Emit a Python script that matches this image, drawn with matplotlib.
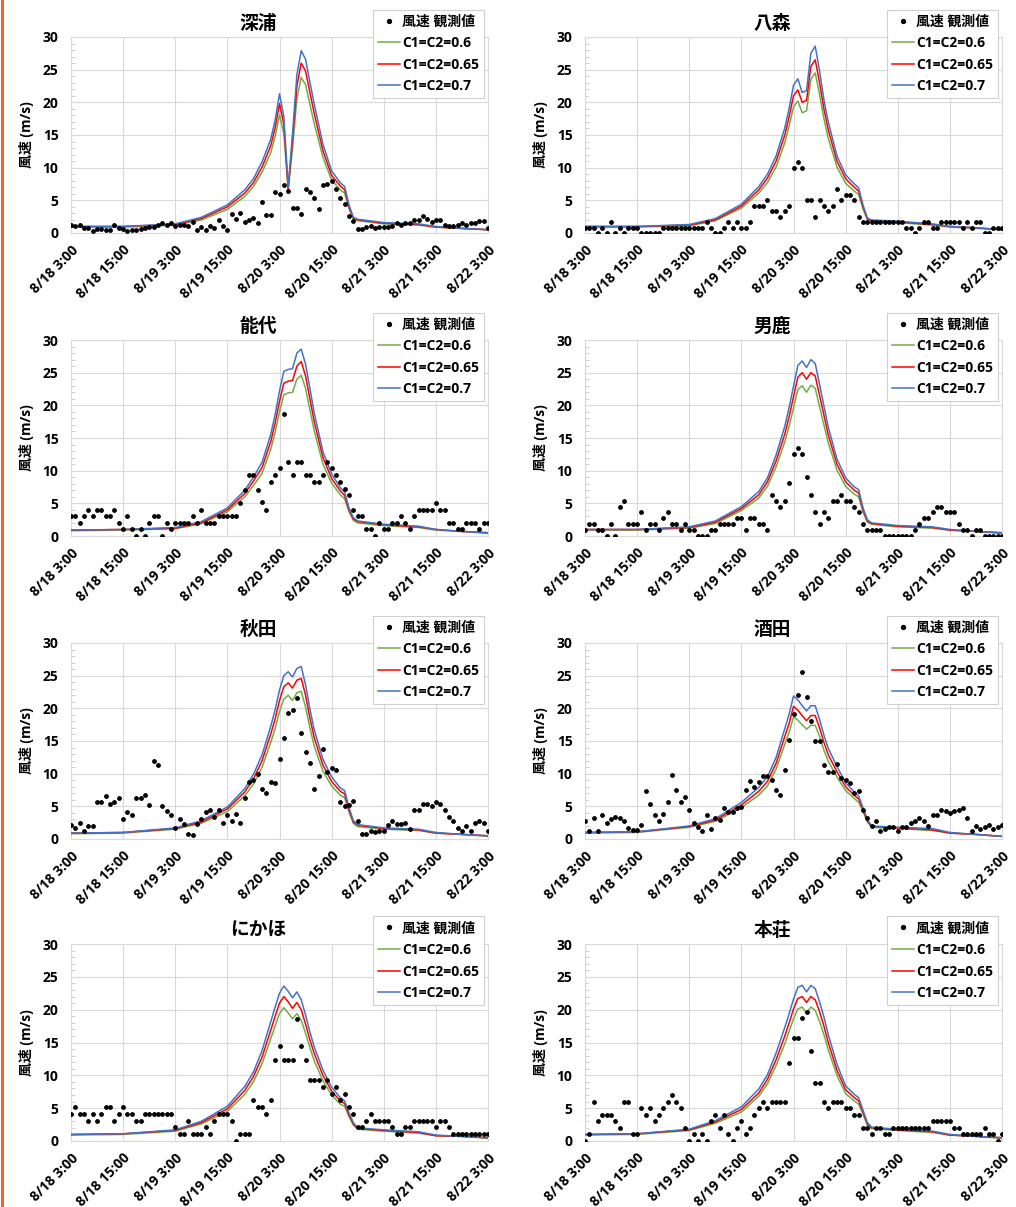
import matplotlib
matplotlib.use("Agg")
import matplotlib.pyplot as plt
from matplotlib.lines import Line2D
import numpy as np

plt.rcParams['font.family'] = ['Open Sans', 'Noto Sans CJK JP', 'DejaVu Sans']
plt.rcParams['font.weight'] = 'bold'

# ---- data ---- #
# hours after 8/18 3:00 (hourly observations, 97 values per station)
obs_hours = list(range(97))
tick_hours = [0, 12, 24, 36, 48, 60, 72, 84, 96]
tick_labels = ['8/18 3:00', '8/18 15:00', '8/19 3:00', '8/19 15:00', '8/20 3:00',
               '8/20 15:00', '8/21 3:00', '8/21 15:00', '8/22 3:00']

# hours where the model curves were read
model_hours = [0, 12, 24, 30, 36, 40, 42, 44, 46, 47, 48, 49, 50, 51, 52, 53,
               54, 55, 56, 58, 60, 62, 63, 64, 65, 66, 72, 80, 84, 90, 96]

stations = ['深浦', '八森', '能代', '男鹿', '秋田', '酒田', 'にかほ', '本荘']
series_labels = ['C1=C2=0.6', 'C1=C2=0.65', 'C1=C2=0.7']
obs_label = '風速 観測値'

# 深浦
obs_fukaura = [1.2, 1.0, 1.2, 0.7, 0.7, 0.3, 0.6, 0.6, 0.5, 0.4, 1.3, 0.7, 0.6, 0.3, 0.4, 0.5,
               0.6, 0.7, 0.9, 0.9, 1.3, 1.5, 1.3, 1.5, 1.1, 1.3, 1.3, 1.0, 1.7, 0.5, 0.9, 0.4,
               1.0, 0.7, 2.0, 1.1, 0.5, 2.9, 2.1, 3.1, 1.7, 2.0, 2.3, 1.5, 4.7, 2.8, 2.8, 6.3,
               5.9, 7.4, 6.5, 3.8, 3.8, 2.9, 6.7, 6.3, 5.3, 3.6, 7.4, 7.5, 7.9, 6.8, 5.3, 4.5,
               2.6, 1.8, 0.6, 0.6, 0.9, 1.0, 0.7, 0.9, 0.9, 0.9, 1.0, 1.6, 1.2, 1.5, 1.5, 2.0,
               2.0, 2.6, 2.2, 1.7, 2.0, 2.0, 1.3, 1.0, 1.0, 1.2, 1.6, 1.3, 1.6, 1.5, 1.9, 1.9, 0.8]
g_fukaura = [0.9, 0.9, 1.2, 2.0, 3.6, 5.6, 7.1, 9.3, 12.3, 14.8, 18.1, 15.2, 6.5, 13.0, 20.6, 23.8,
             22.7, 19.7, 16.7, 11.6, 8.1, 6.6, 6.1, 3.7, 2.1, 1.9, 1.4, 1.2, 0.9, 0.7, 0.5]
r_fukaura = [1.0, 1.0, 1.3, 2.2, 4.0, 6.1, 7.7, 10.1, 13.4, 16.1, 19.8, 16.6, 6.8, 14.2, 22.5, 26.0,
             24.8, 21.5, 18.3, 12.6, 8.8, 7.2, 6.6, 4.0, 2.3, 2.0, 1.5, 1.3, 0.9, 0.7, 0.5]
b_fukaura = [1.0, 1.0, 1.4, 2.4, 4.3, 6.6, 8.3, 10.9, 14.4, 17.3, 21.3, 17.8, 7.0, 15.2, 24.2, 27.9,
             26.6, 23.1, 19.7, 13.6, 9.5, 7.7, 7.1, 4.3, 2.4, 2.1, 1.6, 1.4, 1.0, 0.7, 0.5]

# 八森
obs_hachimori = [0.8, 0.8, 0.8, 0, 0.8, 0, 1.7, 0, 0.8, 0, 0.8, 0.8, 0.8, 0, 0, 0,
                 0, 0, 0.8, 0.8, 0.8, 0.8, 0.8, 0.8, 0.8, 0.8, 0.8, 0.8, 1.7, 0.8, 0, 0,
                 0.8, 1.7, 0.8, 1.7, 0.8, 0.8, 1.7, 4.2, 4.2, 4.2, 5.0, 3.3, 3.3, 2.5, 3.3, 4.2,
                 10.0, 10.8, 10.0, 5.0, 5.0, 2.5, 5.0, 4.2, 3.3, 4.2, 6.7, 5.0, 5.8, 5.8, 5.0, 2.5,
                 1.7, 1.7, 1.7, 1.7, 1.7, 1.7, 1.7, 1.7, 1.7, 1.7, 0.8, 0.8, 0, 0.8, 1.7, 1.7,
                 0.8, 0.8, 1.7, 1.7, 1.7, 1.7, 1.7, 0.8, 1.7, 0.8, 1.7, 1.7, 0, 0, 0.8, 0.8, 0.8]
g_hachimori = [0.9, 0.9, 1.1, 1.9, 3.8, 6.1, 7.7, 10.1, 13.8, 16.4, 19.3, 20.2, 18.4, 18.7, 23.5, 24.5,
               21.2, 17.5, 14.5, 10.1, 7.6, 6.4, 5.9, 3.7, 2.0, 1.8, 1.6, 1.2, 0.9, 0.7, 0.5]
r_hachimori = [1.0, 1.0, 1.2, 2.0, 4.1, 6.6, 8.4, 11.0, 15.0, 17.8, 21.0, 21.9, 20.0, 20.3, 25.5, 26.5,
               23.0, 19.0, 15.8, 11.0, 8.3, 7.0, 6.4, 4.0, 2.2, 1.9, 1.7, 1.3, 1.0, 0.8, 0.5]
b_hachimori = [1.0, 1.0, 1.3, 2.2, 4.4, 7.1, 9.0, 11.8, 16.1, 19.1, 22.6, 23.6, 21.5, 21.8, 27.5, 28.6,
               24.8, 20.4, 17.0, 11.8, 8.9, 7.5, 6.9, 4.3, 2.3, 2.0, 1.8, 1.4, 1.0, 0.8, 0.5]

# 能代
obs_noshiro = [3, 3, 2, 3, 4, 3, 4, 4, 3, 3, 4, 2, 1, 3, 1, 0,
               1, 0, 2, 3, 3, 0, 2, 1, 2, 2, 2, 2, 3, 2, 4, 2,
               2, 2, 3, 3, 3, 3, 3, 5, 7, 9.3, 9.3, 7, 5.2, 4, 8.3, 9.3,
               10.4, 18.6, 11.3, 9.3, 11.3, 11.3, 9.3, 9.3, 8.3, 8.3, 9.3, 11.3, 10.4, 9.3, 8.3, 7.2,
               6.2, 4, 3, 3, 1, 1, 0, 2, 1, 1, 2, 2, 3, 2, 1, 3,
               4, 4, 4, 4, 5, 4, 4, 2, 2, 1, 1, 2, 2, 2, 1, 2, 2]
g_noshiro = [0.8, 0.9, 1.1, 1.9, 3.7, 6.0, 7.7, 9.6, 13.3, 15.9, 19.0, 21.6, 21.9, 22.0, 24.0, 24.6,
             22.6, 19.3, 16.1, 11.0, 8.1, 6.3, 5.7, 3.7, 2.4, 2.0, 1.6, 1.3, 0.9, 0.7, 0.4]
r_noshiro = [0.9, 1.0, 1.2, 2.0, 4.0, 6.5, 8.4, 10.5, 14.5, 17.3, 20.6, 23.4, 23.7, 23.8, 26.0, 26.7,
             24.5, 21.0, 17.5, 12.0, 8.8, 6.9, 6.2, 4.0, 2.6, 2.2, 1.7, 1.4, 1.0, 0.7, 0.5]
b_noshiro = [0.9, 1.0, 1.3, 2.2, 4.3, 7.0, 9.0, 11.3, 15.6, 18.6, 22.2, 25.2, 25.5, 25.6, 28.0, 28.6,
             26.3, 22.6, 18.8, 12.9, 9.5, 7.4, 6.7, 4.3, 2.8, 2.3, 1.8, 1.5, 1.0, 0.7, 0.5]

# 男鹿
obs_oga = [0.9, 1.8, 1.8, 0.9, 0.9, 0, 1.8, 0, 4.5, 5.4, 1.8, 1.8, 1.8, 3.6, 0.9, 1.8,
           1.8, 0.9, 2.7, 3.6, 1.8, 1.8, 0.9, 1.8, 0.9, 0.9, 0, 0, 0, 0.9, 0.9, 1.8,
           1.8, 1.8, 1.8, 2.7, 2.7, 0.9, 2.7, 2.7, 1.8, 1.8, 0.9, 6.3, 5.4, 4.5, 5.4, 8.1,
           12.6, 13.5, 12.6, 9.0, 6.3, 3.6, 1.8, 3.6, 2.7, 5.4, 5.4, 6.3, 5.4, 5.4, 4.5, 3.6,
           1.8, 0.9, 0.9, 0.9, 0.9, 0, 0, 0, 0, 0, 0, 0, 0.9, 1.8, 2.7, 2.7,
           3.6, 4.5, 4.5, 3.6, 3.6, 3.6, 1.8, 0.9, 0.9, 0, 0.9, 0.9, 0, 0, 0, 0, 0]
g_oga = [0.9, 0.9, 1.2, 1.9, 3.9, 5.8, 7.6, 10.6, 14.4, 16.8, 19.6, 22.4, 23.0, 22.0, 23.1, 22.6,
         19.8, 17.0, 14.3, 10.1, 7.6, 6.4, 6.0, 3.7, 2.1, 1.8, 1.4, 1.2, 0.9, 0.7, 0.4]
r_oga = [1.0, 1.0, 1.3, 2.1, 4.2, 6.3, 8.3, 11.5, 15.6, 18.3, 21.3, 24.3, 25.0, 24.0, 25.0, 24.5,
         21.5, 18.5, 15.5, 11.0, 8.3, 7.0, 6.6, 4.0, 2.3, 1.9, 1.5, 1.3, 0.9, 0.7, 0.5]
b_oga = [1.0, 1.0, 1.4, 2.3, 4.5, 6.8, 8.9, 12.4, 16.8, 19.7, 22.9, 26.1, 26.8, 25.8, 27.0, 26.4,
         23.2, 19.9, 16.7, 11.8, 8.9, 7.5, 7.1, 4.3, 2.5, 2.0, 1.6, 1.4, 1.0, 0.7, 0.5]

# 秋田
obs_akita = [2.1, 1.7, 2.5, 1.3, 2.0, 2.0, 5.6, 5.6, 6.6, 5.4, 5.7, 6.3, 3.1, 4.2, 3.6, 6.3,
             6.3, 6.7, 5.2, 11.9, 11.4, 5.0, 4.3, 3.6, 1.7, 3.0, 2.3, 0.7, 0.6, 2.3, 3.0, 4.1,
             4.5, 3.3, 4.5, 2.4, 3.6, 2.7, 3.9, 2.5, 6.3, 8.7, 9.0, 9.9, 7.6, 7.0, 8.7, 8.6,
             12.2, 15.5, 19.3, 19.7, 21.6, 16.3, 13.3, 11.6, 7.7, 9.6, 13.7, 10.2, 10.8, 10.6, 5.7, 5.0,
             5.2, 5.8, 2.7, 0.8, 0.7, 1.3, 1.1, 1.3, 1.3, 2.1, 2.7, 2.3, 2.3, 2.5, 1.5, 4.4,
             4.5, 5.3, 5.3, 5.0, 5.6, 5.3, 4.5, 3.4, 2.8, 1.7, 1.3, 2.0, 1.3, 2.5, 2.7, 2.5, 1.3]
g_akita = [0.8, 0.9, 1.5, 2.4, 4.2, 6.6, 8.4, 11.0, 14.8, 16.9, 19.5, 21.4, 22.0, 21.2, 22.4, 22.6,
           20.2, 17.0, 14.2, 10.4, 8.1, 6.7, 6.3, 4.1, 2.4, 1.9, 1.5, 1.3, 0.9, 0.7, 0.4]
r_akita = [0.9, 1.0, 1.6, 2.6, 4.6, 7.2, 9.2, 12.0, 16.1, 18.4, 21.2, 23.3, 23.9, 23.1, 24.3, 24.6,
           22.0, 18.5, 15.5, 11.3, 8.8, 7.3, 6.9, 4.5, 2.6, 2.1, 1.6, 1.4, 0.9, 0.7, 0.5]
b_akita = [0.9, 1.0, 1.7, 2.8, 4.9, 7.7, 9.9, 12.9, 17.3, 19.8, 22.8, 25.0, 25.6, 24.8, 26.1, 26.4,
           23.6, 19.9, 16.7, 12.2, 9.5, 7.8, 7.4, 4.8, 2.8, 2.2, 1.7, 1.5, 1.0, 0.7, 0.5]

# 酒田
obs_sakata = [2.8, 1.3, 3.2, 1.3, 3.7, 2.5, 3.0, 3.4, 3.2, 2.7, 1.7, 1.4, 1.4, 2.2, 7.4, 5.3,
              3.6, 2.8, 3.9, 5.7, 9.8, 7.5, 5.7, 6.5, 4.4, 2.5, 1.9, 1.2, 3.7, 1.5, 3.2, 2.9,
              4.7, 4.2, 4.2, 4.7, 4.9, 7.5, 8.9, 8.0, 8.8, 9.7, 9.6, 9.1, 7.5, 6.7, 10.5, 15.1,
              19.2, 22.1, 25.5, 21.7, 18.1, 15.0, 15.0, 11.3, 10.3, 10.3, 11.5, 9.3, 9.0, 8.6, 7.0, 7.4,
              4.5, 3.2, 2.0, 2.7, 1.2, 1.5, 1.8, 1.9, 1.2, 1.8, 1.9, 2.5, 2.7, 3.2, 2.7, 2.0,
              3.7, 3.7, 4.4, 4.3, 4.0, 4.3, 4.5, 4.8, 3.2, 1.2, 2.0, 1.5, 1.8, 2.1, 1.6, 1.9, 2.2]
g_sakata = [0.9, 1.0, 1.8, 2.7, 4.8, 6.7, 8.1, 10.7, 14.5, 16.3, 18.7, 18.2, 17.5, 16.8, 17.4, 17.4,
            15.7, 13.6, 11.9, 9.5, 7.4, 6.2, 5.6, 4.2, 2.6, 1.8, 1.6, 1.3, 0.9, 0.7, 0.4]
r_sakata = [1.0, 1.1, 1.9, 2.9, 5.2, 7.3, 8.8, 11.6, 15.7, 17.7, 20.3, 19.7, 18.9, 18.1, 18.9, 18.9,
            17.0, 14.8, 12.9, 10.3, 8.0, 6.7, 6.1, 4.5, 2.8, 1.9, 1.7, 1.4, 0.9, 0.7, 0.4]
b_sakata = [1.0, 1.1, 2.0, 3.1, 5.6, 7.9, 9.5, 12.5, 16.9, 19.1, 21.9, 21.3, 20.4, 19.6, 20.4, 20.4,
            18.3, 15.9, 13.9, 11.1, 8.6, 7.2, 6.6, 4.8, 3.0, 2.0, 1.8, 1.6, 1.0, 0.7, 0.4]

# にかほ
obs_nikaho = [4.1, 5.2, 4.1, 4.1, 3.1, 4.1, 3.1, 4.1, 5.2, 5.2, 3.1, 4.1, 5.2, 4.1, 4.1, 3.1,
              3.1, 4.1, 4.1, 4.1, 4.1, 4.1, 4.1, 4.1, 2.1, 1.0, 1.0, 3.1, 1.0, 1.0, 1.0, 2.1,
              1.0, 3.1, 4.1, 4.1, 4.1, 3.1, 0, 1.0, 1.0, 1.0, 6.2, 5.2, 5.2, 4.1, 6.2, 12.4,
              14.4, 12.4, 12.4, 12.4, 18.6, 14.4, 12.4, 9.3, 9.3, 9.3, 8.2, 9.3, 7.2, 8.2, 6.2, 7.2,
              5.2, 4.1, 2.1, 2.1, 3.1, 4.1, 3.1, 3.1, 3.1, 3.1, 2.1, 1.0, 1.0, 2.1, 2.1, 3.1,
              3.1, 3.1, 3.1, 3.1, 2.1, 3.1, 3.1, 2.1, 1.0, 1.0, 1.0, 1.0, 1.0, 1.0, 1.0, 1.0, 1.0]
g_nikaho = [0.9, 1.0, 1.5, 2.6, 4.5, 7.1, 9.0, 11.8, 15.6, 17.5, 19.4, 20.3, 19.5, 18.6, 19.4, 18.4,
            16.4, 14.2, 12.2, 9.2, 7.0, 5.6, 5.3, 3.7, 2.4, 1.8, 1.5, 1.2, 0.8, 0.7, 0.4]
r_nikaho = [1.0, 1.1, 1.6, 2.8, 4.9, 7.7, 9.8, 12.8, 16.9, 19.0, 21.0, 22.0, 21.2, 20.2, 21.1, 20.0,
            17.8, 15.4, 13.3, 10.0, 7.6, 6.1, 5.7, 4.0, 2.6, 1.9, 1.6, 1.3, 0.8, 0.7, 0.5]
b_nikaho = [1.0, 1.1, 1.7, 3.0, 5.3, 8.3, 10.5, 13.8, 18.2, 20.4, 22.5, 23.6, 22.8, 21.8, 22.7, 21.5,
            19.2, 16.6, 14.3, 10.8, 8.2, 6.6, 6.1, 4.3, 2.8, 2.0, 1.7, 1.4, 0.9, 0.7, 0.5]

# 本荘
obs_honjo = [0, 1, 6, 3, 4, 4, 4, 3, 2, 6, 6, 1, 1, 5, 4, 5,
             3, 4, 5, 6, 7, 6, 5, 2, 0, 1, 0, 1, 0, 3, 4, 2,
             4, 1, 0, 2, 3, 1, 2, 4, 5, 6, 5, 6, 6, 6, 6, 11.9,
             15.7, 15.7, 18.7, 19.7, 13.7, 8.8, 8.8, 6, 5, 6, 6, 6, 5, 5, 4, 4,
             2, 2, 1, 2, 2, 1, 1, 2, 2, 2, 2, 2, 2, 2, 2, 2,
             3, 3, 3, 3, 3, 2, 2, 1, 1, 1, 1, 1, 2, 1, 1, 0, 1]
g_honjo = [0.9, 1.0, 1.6, 2.7, 4.4, 6.8, 8.7, 11.5, 14.8, 16.7, 18.6, 20.1, 20.4, 19.5, 20.4, 19.9,
           18.2, 16.2, 13.9, 10.0, 7.2, 6.1, 5.6, 4.1, 2.4, 1.9, 1.6, 1.3, 0.9, 0.7, 0.4]
r_honjo = [1.0, 1.1, 1.7, 2.9, 4.8, 7.3, 9.4, 12.4, 16.0, 18.0, 20.1, 21.7, 22.0, 21.1, 22.0, 21.5,
           19.7, 17.5, 15.0, 10.8, 7.8, 6.6, 6.1, 4.4, 2.6, 2.0, 1.7, 1.4, 0.9, 0.7, 0.5]
b_honjo = [1.0, 1.1, 1.8, 3.1, 5.2, 7.9, 10.1, 13.4, 17.3, 19.4, 21.6, 23.4, 23.7, 22.7, 23.7, 23.2,
           21.2, 18.9, 16.2, 11.7, 8.4, 7.1, 6.6, 4.7, 2.8, 2.1, 1.8, 1.5, 1.0, 0.7, 0.5]

panel_data = {
    '深浦': (obs_fukaura, g_fukaura, r_fukaura, b_fukaura),
    '八森': (obs_hachimori, g_hachimori, r_hachimori, b_hachimori),
    '能代': (obs_noshiro, g_noshiro, r_noshiro, b_noshiro),
    '男鹿': (obs_oga, g_oga, r_oga, b_oga),
    '秋田': (obs_akita, g_akita, r_akita, b_akita),
    '酒田': (obs_sakata, g_sakata, r_sakata, b_sakata),
    'にかほ': (obs_nikaho, g_nikaho, r_nikaho, b_nikaho),
    '本荘': (obs_honjo, g_honjo, r_honjo, b_honjo),
}

line_colors = ['#70AD47', '#FF0000', '#4472C4']
grid_col = '#D9D9D9'

# ---- layout (pixel boxes: left, top, right, bottom) ---- #
W, H = 1016, 1207
col_lr = [(71, 488), (585, 1002)]
row_tb = [(37, 233), (340, 536), (643, 839), (944, 1141)]

fig = plt.figure(figsize=(W / 100, H / 100), dpi=100)

for i, name in enumerate(stations):
    l, r = col_lr[i % 2]
    t, b = row_tb[i // 2]
    ax = fig.add_axes([l / W, 1 - b / H, (r - l) / W, (b - t) / H])
    obs, g, rd, bl = panel_data[name]

    for vals, col, lab in zip([g, rd, bl], line_colors, series_labels):
        ax.plot(model_hours, vals, color=col, lw=1.1, label=lab, zorder=3)
    ax.scatter(obs_hours, obs, s=6, color='black', zorder=4, label=obs_label)

    ax.set_xlim(0, 96)
    ax.set_ylim(0, 30)
    ax.set_yticks(range(0, 31, 5))
    ax.set_yticks(range(0, 31, 1), minor=True)
    ax.set_xticks(tick_hours)
    ax.set_xticklabels(tick_labels, rotation=45, ha='right', rotation_mode='anchor')
    ax.grid(True, which='major', color=grid_col, lw=0.8)
    for sp in ax.spines.values():
        sp.set_color(grid_col)
        sp.set_linewidth(0.8)
    ax.tick_params(axis='both', which='major', labelsize=10, length=0)
    ax.tick_params(axis='y', which='major', pad=9)
    ax.tick_params(axis='x', which='major', pad=7)
    ax.tick_params(axis='y', which='minor', direction='in', length=3, color='#C8C8C8', width=0.6)
    for lbl in ax.get_xticklabels() + ax.get_yticklabels():
        lbl.set_fontweight('bold')

    ax.set_ylabel('風速 (m/s)', fontsize=10, fontweight='bold', labelpad=6)
    ax.set_title(name, fontsize=13.5, fontweight='bold', x=0.45, pad=6)

    handles = [Line2D([], [], ls='none', marker='o', ms=2.8, color='black')]
    handles += [Line2D([], [], color=c, lw=1.1) for c in line_colors]
    leg = ax.legend(handles, [obs_label] + series_labels, loc='upper right',
                    bbox_to_anchor=(0.99, 1.14), borderaxespad=0,
                    prop={'weight': 'bold', 'size': 10}, frameon=True, fancybox=False,
                    labelspacing=0.55, handlelength=1.6, handletextpad=0.15,
                    borderpad=0.35, framealpha=1)
    leg.get_frame().set_edgecolor('#D0D0D0')
    leg.get_frame().set_linewidth(0.8)
    leg.set_zorder(5)

# orange slide border on the left edge
fig.add_artist(Line2D([0.0015, 0.0015], [0, 1], color='#E46C1E', lw=2.2,
                      transform=fig.transFigure))

fig.savefig('out.png', dpi=100)
